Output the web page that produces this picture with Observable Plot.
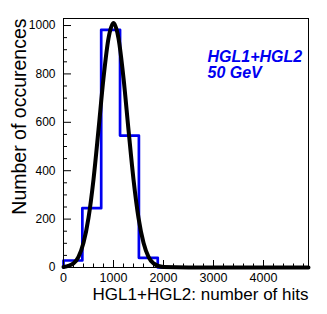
<!DOCTYPE html>
<html><head><meta charset="utf-8">
<script src="https://cdn.jsdelivr.net/npm/d3@7"></script>
<script src="https://cdn.jsdelivr.net/npm/@observablehq/plot@0.6"></script>
<style>body{margin:0;background:#fff}</style>
</head><body><div id="chart"></div>
<script>
// Histogram (bin edges and counts)
const binEdges = [0, 377, 754, 1131, 1508, 1885, 2262, 2638, 3015, 3392, 3769, 4146, 4523, 4900];
const binCounts = [29, 245, 982, 545, 40, 0, 0, 0, 0, 0, 0, 0, 0];
// Gaussian fit curve
const fitX = [0, 200, 300, 400, 500, 600, 700, 800, 900, 1000, 1100, 1200, 1300, 1400, 1500, 1600, 1700, 1800, 2000, 2500, 4900];
const fitY = [2, 17, 44, 102, 205, 364, 569, 783, 947, 1010, 947, 783, 569, 364, 205, 102, 44, 17, 2, 0, 0];
// Axes
const xMajorTicks = [0, 1000, 2000, 3000, 4000];
const xMinorTicks = [200, 400, 600, 800, 1200, 1400, 1600, 1800, 2200, 2400, 2600, 2800, 3200, 3400, 3600, 3800, 4200, 4400, 4600, 4800];
const yMajorTicks = [0, 200, 400, 600, 800, 1000];
const yMinorTicks = [50, 100, 150, 250, 300, 350, 450, 500, 550, 650, 700, 750, 850, 900, 950];
const xTitle = "HGL1+HGL2: number of hits";
const yTitle = "Number of occurences";
const annotationLines = ["HGL1+HGL2", "50 GeV"];
const annotationPos = [{x: 2880, y: 900}];

const histPts = [{x: binEdges[0], y: 0}].concat(
  binEdges.map((e, i) => ({x: e, y: i < binCounts.length ? binCounts[i] : binCounts[binCounts.length - 1]}))
);
histPts.push({x: binEdges[binEdges.length - 1], y: 0});
const fitPts = fitX.map((x, i) => ({x, y: fitY[i]}));

const W = 327, H = 314, mL = 63, mR = 19, mT = 18, mB = 47;
const xDom = [0, 4900], yDom = [0, 1029];
const xPerPx = (xDom[1] - xDom[0]) / (W - mL - mR);
const yPerPx = (yDom[1] - yDom[0]) / (H - mT - mB);

const chart = Plot.plot({
  width: W, height: H,
  marginLeft: mL, marginRight: mR, marginTop: mT, marginBottom: mB,
  style: {fontFamily: "'Liberation Sans', Arial, Helvetica, sans-serif", background: "white", color: "black"},
  x: {domain: xDom},
  y: {domain: yDom},
  marks: [
    Plot.line(histPts, {x: "x", y: "y", curve: "step-after", stroke: "#0000f0", strokeWidth: 2.7}),
    Plot.line(fitPts, {x: "x", y: "y", curve: "monotone-x", stroke: "black", strokeWidth: 4}),
    Plot.frame({stroke: "black", strokeWidth: 1}),
    Plot.ruleX(xMajorTicks, {x: d => d, y1: 0, y2: 7 * yPerPx, stroke: "black"}),
    Plot.ruleX(xMinorTicks, {x: d => d, y1: 0, y2: 3.5 * yPerPx, stroke: "black"}),
    Plot.ruleY(yMajorTicks, {y: d => d, x1: 0, x2: 8 * xPerPx, stroke: "black"}),
    Plot.ruleY(yMinorTicks, {y: d => d, x1: 0, x2: 4 * xPerPx, stroke: "black"}),
    Plot.axisX({ticks: xMajorTicks, tickSize: 0, tickPadding: 6, fontSize: 12.5, label: null, tickFormat: d => String(d)}),
    Plot.axisY({ticks: yMajorTicks, tickSize: 0, tickPadding: 8, fontSize: 12, label: null, tickFormat: d => String(d)}),
    Plot.text([xTitle], {frameAnchor: "bottom-right", textAnchor: "end", lineAnchor: "middle", dy: 27, fontSize: 17}),
    Plot.text([yTitle], {frameAnchor: "top-left", textAnchor: "end", lineAnchor: "middle", rotate: -90, dx: -44, fontSize: 19.5}),
    Plot.text(annotationPos, {x: "x", y: "y", text: () => annotationLines.join("\n"), textAnchor: "start", lineAnchor: "top", lineHeight: 1.04, fontSize: 16, fontWeight: "bold", fontStyle: "italic", fill: "#0000f0"})
  ]
});
document.getElementById("chart").appendChild(chart);
</script>
</body></html>
